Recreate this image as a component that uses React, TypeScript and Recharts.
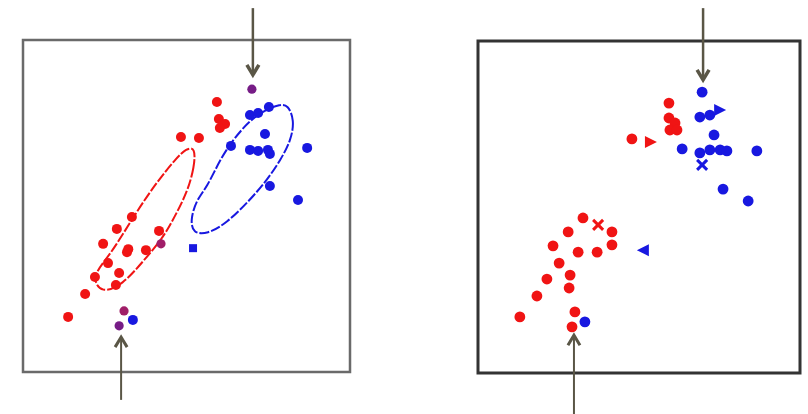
import React from 'react';
import { ScatterChart, Scatter, XAxis, YAxis, ReferenceArea, ReferenceLine } from 'recharts';

type Pt = { x: number; y: number };
type Arrow = { x: number; from: number; to: number };

// left panel (units 0..10 inside the box)
const leftRed: Pt[] = [
  { x: 5.93, y: 8.13 }, { x: 5.99, y: 7.62 }, { x: 6.18, y: 7.47 }, { x: 6.02, y: 7.35 },
  { x: 4.83, y: 7.08 }, { x: 5.38, y: 7.05 }, { x: 3.33, y: 4.67 }, { x: 2.87, y: 4.31 },
  { x: 4.16, y: 4.25 }, { x: 2.45, y: 3.86 }, { x: 3.18, y: 3.61 }, { x: 3.22, y: 3.7 },
  { x: 3.76, y: 3.67 }, { x: 2.6, y: 3.28 }, { x: 2.94, y: 2.98 }, { x: 2.2, y: 2.86 },
  { x: 2.84, y: 2.62 }, { x: 1.9, y: 2.35 }, { x: 1.38, y: 1.66 },
];
const leftBlue: Pt[] = [
  { x: 6.94, y: 7.74 }, { x: 7.19, y: 7.8 }, { x: 7.52, y: 7.98 }, { x: 7.4, y: 7.17 },
  { x: 6.36, y: 6.81 }, { x: 6.94, y: 6.69 }, { x: 7.19, y: 6.66 }, { x: 7.49, y: 6.69 },
  { x: 7.55, y: 6.57 }, { x: 8.69, y: 6.75 }, { x: 7.55, y: 5.6 }, { x: 8.41, y: 5.18 },
  { x: 3.36, y: 1.57 },
];
const leftBlueSquare: Pt[] = [{ x: 5.2, y: 3.73 }];
const leftPurple: Pt[] = [{ x: 7.0, y: 8.52 }, { x: 2.94, y: 1.39 }];
const leftMagenta: Pt[] = [{ x: 4.22, y: 3.86 }, { x: 3.09, y: 1.84 }];

const leftRedEllipse: Pt[] = [
  { x: 5.27, y: 6.76 }, { x: 5.24, y: 6.18 }, { x: 5.03, y: 5.43 }, { x: 4.64, y: 4.68 },
  { x: 4.27, y: 4.02 }, { x: 3.66, y: 3.32 }, { x: 3.05, y: 2.63 }, { x: 2.4, y: 2.36 },
  { x: 2.12, y: 2.82 }, { x: 2.43, y: 3.27 }, { x: 2.79, y: 3.72 }, { x: 3.5, y: 4.87 },
  { x: 4.11, y: 5.74 }, { x: 4.66, y: 6.41 }, { x: 5.0, y: 6.74 },
];
const leftBlueEllipse: Pt[] = [
  { x: 8.1, y: 8.05 }, { x: 8.3, y: 7.59 }, { x: 8.2, y: 6.99 }, { x: 7.88, y: 6.39 },
  { x: 7.46, y: 5.78 }, { x: 6.94, y: 5.18 }, { x: 6.24, y: 4.49 }, { x: 5.63, y: 4.15 },
  { x: 5.2, y: 4.18 }, { x: 5.12, y: 4.58 }, { x: 5.3, y: 5.18 }, { x: 5.63, y: 5.57 },
  { x: 6.02, y: 6.39 }, { x: 6.42, y: 6.99 }, { x: 6.94, y: 7.59 }, { x: 7.46, y: 7.92 },
  { x: 7.86, y: 8.06 },
];
const leftArrows: Arrow[] = [
  { x: 7.03, from: 10.96, to: 8.95 },
  { x: 3.0, from: -0.84, to: 1.05 },
];

// right panel
const rightRedDots: Pt[] = [
  { x: 5.93, y: 8.13 }, { x: 5.93, y: 7.68 }, { x: 6.12, y: 7.53 }, { x: 5.96, y: 7.32 },
  { x: 6.18, y: 7.32 }, { x: 4.78, y: 7.05 }, { x: 3.26, y: 4.67 }, { x: 4.16, y: 4.25 },
  { x: 2.8, y: 4.25 }, { x: 4.16, y: 3.86 }, { x: 2.33, y: 3.83 }, { x: 3.11, y: 3.64 },
  { x: 3.7, y: 3.64 }, { x: 2.52, y: 3.31 }, { x: 2.86, y: 2.95 }, { x: 2.14, y: 2.83 },
  { x: 2.83, y: 2.56 }, { x: 1.83, y: 2.32 }, { x: 1.3, y: 1.69 }, { x: 3.01, y: 1.84 },
  { x: 2.92, y: 1.39 },
];
const rightRedTriangles: Pt[] = [{ x: 5.37, y: 6.96 }];
const rightRedCross: Pt[] = [{ x: 3.73, y: 4.46 }];
const rightBlueDots: Pt[] = [
  { x: 6.96, y: 8.46 }, { x: 6.89, y: 7.71 }, { x: 7.2, y: 7.77 }, { x: 7.33, y: 7.17 },
  { x: 6.34, y: 6.75 }, { x: 6.89, y: 6.63 }, { x: 7.2, y: 6.72 }, { x: 7.52, y: 6.72 },
  { x: 7.73, y: 6.69 }, { x: 8.66, y: 6.69 }, { x: 7.61, y: 5.54 }, { x: 8.39, y: 5.18 },
  { x: 3.32, y: 1.54 },
];
const rightBlueTriRight: Pt[] = [{ x: 7.52, y: 7.92 }];
const rightBlueTriLeft: Pt[] = [{ x: 5.12, y: 3.7 }];
const rightBlueCross: Pt[] = [{ x: 6.96, y: 6.27 }];
const rightArrows: Arrow[] = [
  { x: 6.99, from: 10.99, to: 8.83 },
  { x: 2.98, from: -1.3, to: 1.14 },
];

const RED = '#f01414';
const BLUE = '#1818e0';
const PURPLE = '#761c86';
const MAGENTA = '#a01e68';
const ARROW = '#5a5646';

const dot = (r: number, fill: string) => (p: any) => <circle cx={p.cx} cy={p.cy} r={r} fill={fill} />;
const square = (s: number, fill: string) => (p: any) => (
  <rect x={p.cx - s / 2} y={p.cy - s / 2} width={s} height={s} fill={fill} />
);
const tri = (s: number, fill: string, dir: 1 | -1) => (p: any) => (
  <path d={`M${p.cx + dir * s},${p.cy} L${p.cx - dir * s},${p.cy - s} L${p.cx - dir * s},${p.cy + s} Z`} fill={fill} />
);
const xmark = (s: number, stroke: string) => (p: any) => (
  <path d={`M${p.cx - s},${p.cy - s} L${p.cx + s},${p.cy + s} M${p.cx + s},${p.cy - s} L${p.cx - s},${p.cy + s}`} stroke={stroke} strokeWidth={3} />
);
const none = () => <g />;

const arrowShape = (w: number) => (p: any) => {
  const { x1, y1, x2, y2 } = p;
  const dir = y2 > y1 ? 1 : -1;
  return (
    <g>
      <line x1={x1} y1={y1} x2={x2} y2={y2 - dir * 2} stroke={ARROW} strokeWidth={w} />
      <path
        d={`M${x2 - 6},${y2 - dir * 10} L${x2},${y2} L${x2 + 6},${y2 - dir * 10}`}
        fill="none"
        stroke={ARROW}
        strokeWidth={w + 1}
      />
    </g>
  );
};

function Panel({ left, width, margin, border, borderWidth, arrows, children }: any) {
  return (
    <div style={{ position: 'absolute', left, top: 0 }}>
      <ScatterChart width={width} height={414} margin={margin}>
        <XAxis type="number" dataKey="x" domain={[0, 10]} hide allowDataOverflow />
        <YAxis type="number" dataKey="y" domain={[0, 10]} hide allowDataOverflow />
        <ReferenceArea x1={0} x2={10} y1={0} y2={10} fill="none" stroke={border} strokeWidth={borderWidth} ifOverflow="visible" />
        {arrows.map((a: Arrow, i: number) => (
          <ReferenceLine
            key={i}
            segment={[{ x: a.x, y: a.from }, { x: a.x, y: a.to }]}
            ifOverflow="visible"
            shape={arrowShape(i === 0 ? 2.5 : 2)}
          />
        ))}
        {children}
      </ScatterChart>
    </div>
  );
}

export default function App() {
  return (
    <div style={{ position: 'absolute', left: 0, top: 0, width: 808, height: 414, background: '#fff' }}>
      <Panel left={0} width={400} margin={{ left: 23, right: 50, top: 40, bottom: 42 }} border="#6a6a6a" borderWidth={2.5} arrows={leftArrows}>
        <Scatter data={leftRedEllipse} shape={none} line={{ stroke: RED, strokeWidth: 2, fill: 'none', strokeDasharray: '10 2' }} lineJointType="basisClosed" isAnimationActive={false} />
        <Scatter data={leftBlueEllipse} shape={none} line={{ stroke: BLUE, strokeWidth: 2, fill: 'none', strokeDasharray: '10 2' }} lineJointType="basisClosed" isAnimationActive={false} />
        <Scatter data={leftRed} shape={dot(5, RED)} isAnimationActive={false} />
        <Scatter data={leftBlue} shape={dot(5, BLUE)} isAnimationActive={false} />
        <Scatter data={leftBlueSquare} shape={square(8, BLUE)} isAnimationActive={false} />
        <Scatter data={leftPurple} shape={dot(4.6, PURPLE)} isAnimationActive={false} />
        <Scatter data={leftMagenta} shape={dot(4.6, MAGENTA)} isAnimationActive={false} />
      </Panel>
      <Panel left={430} width={378} margin={{ left: 48, right: 8, top: 41, bottom: 41 }} border="#333333" borderWidth={3} arrows={rightArrows}>
        <Scatter data={rightRedDots} shape={dot(5.4, RED)} isAnimationActive={false} />
        <Scatter data={rightRedTriangles} shape={tri(6, RED, 1)} isAnimationActive={false} />
        <Scatter data={rightRedCross} shape={xmark(5, RED)} isAnimationActive={false} />
        <Scatter data={rightBlueDots} shape={dot(5.4, BLUE)} isAnimationActive={false} />
        <Scatter data={rightBlueTriRight} shape={tri(6, BLUE, 1)} isAnimationActive={false} />
        <Scatter data={rightBlueTriLeft} shape={tri(6, BLUE, -1)} isAnimationActive={false} />
        <Scatter data={rightBlueCross} shape={xmark(5, BLUE)} isAnimationActive={false} />
      </Panel>
    </div>
  );
}
